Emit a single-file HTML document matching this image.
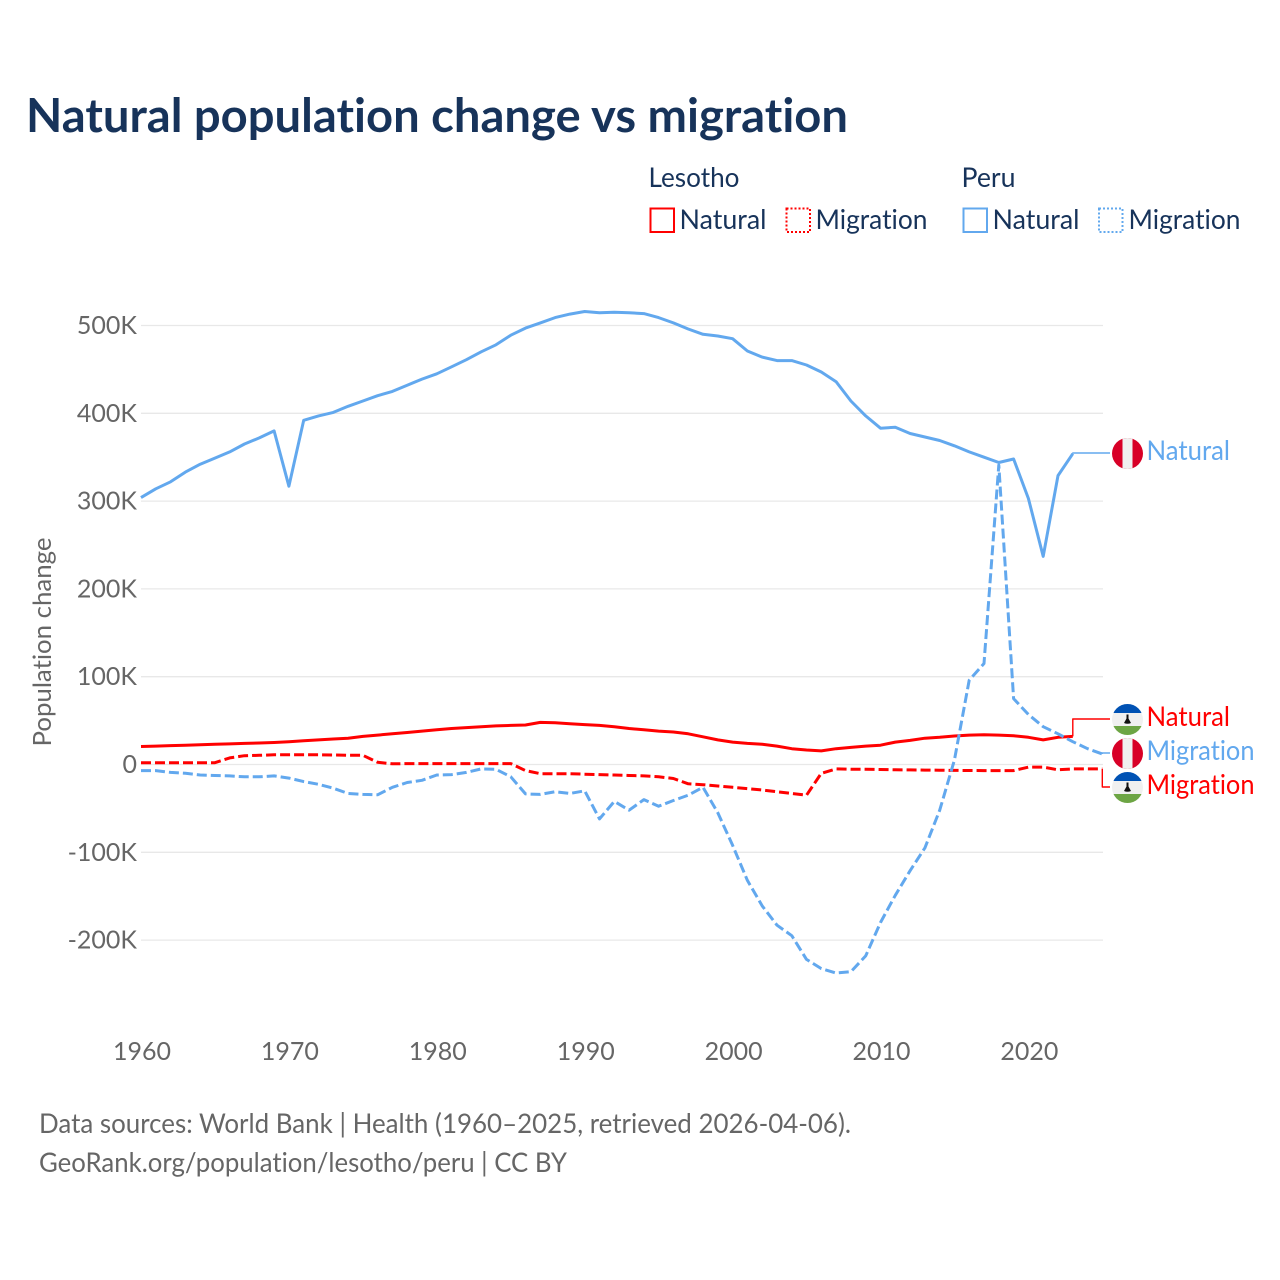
<!DOCTYPE html>
<html lang="en">
<head>
<meta charset="utf-8">
<title>Natural population change vs migration</title>
<style>
html,body{margin:0;padding:0;background:#fff}
svg{display:block}
text{font-family:"Lato","Carlito","Liberation Sans",sans-serif;font-variant-ligatures:none;font-feature-settings:"liga" 0,"clig" 0}
</style>
</head>
<body>
<svg id="chart" xmlns="http://www.w3.org/2000/svg" width="1280" height="1280" viewBox="0 0 1280 1280">
  <rect width="1280" height="1280" fill="#fff"/>
  <text x="26" y="132" font-size="47" font-weight="700" fill="#17335a" textLength="822" lengthAdjust="spacingAndGlyphs">Natural population change vs migration</text>

  <g font-size="27" fill="#17335a">
    <text x="648.5" y="187" textLength="91" lengthAdjust="spacingAndGlyphs">Lesotho</text>
    <text x="961.5" y="187" textLength="54" lengthAdjust="spacingAndGlyphs">Peru</text>
    <rect x="650.5" y="208.5" width="23.5" height="23.5" fill="none" stroke="#ff0000" stroke-width="2"/>
    <text x="679.5" y="229" textLength="87" lengthAdjust="spacingAndGlyphs">Natural</text>
    <rect x="786.5" y="208.5" width="23.5" height="23.5" fill="none" stroke="#ff0000" stroke-width="2" stroke-dasharray="2 2"/>
    <text x="815.5" y="229" textLength="112" lengthAdjust="spacingAndGlyphs">Migration</text>
    <rect x="963.5" y="208.5" width="23.5" height="23.5" fill="none" stroke="#62a8ee" stroke-width="2"/>
    <text x="992.5" y="229" textLength="87" lengthAdjust="spacingAndGlyphs">Natural</text>
    <rect x="1099" y="208.5" width="23.5" height="23.5" fill="none" stroke="#62a8ee" stroke-width="2" stroke-dasharray="2 2"/>
    <text x="1128.5" y="229" textLength="112" lengthAdjust="spacingAndGlyphs">Migration</text>
  </g>

  <g id="grid"></g>
  <g id="yticks" font-size="25" fill="#666" text-anchor="end"></g>
  <g id="xticks" font-size="25" fill="#666" text-anchor="middle"></g>
  <text transform="translate(51 642) rotate(-90)" font-size="25" fill="#666" text-anchor="middle" textLength="209" lengthAdjust="spacingAndGlyphs">Population change</text>
  <g id="series" fill="none" stroke-linejoin="round"></g>

  <defs>
    <clipPath id="flag-clip"><circle cx="0" cy="0" r="15.5"/></clipPath>
  </defs>
  <g transform="translate(1127.5 453.5)" clip-path="url(#flag-clip)">
    <rect x="-16" y="-16" width="32" height="32" fill="#d80027"/><rect x="-5" y="-16" width="10" height="32" fill="#f0f0f0"/>
  </g>
  <g transform="translate(1127.5 719.5)" clip-path="url(#flag-clip)">
    <rect x="-16" y="-16" width="32" height="32" fill="#f0f0f0"/><rect x="-16" y="-16" width="32" height="9.5" fill="#0052b4"/><rect x="-16" y="6.5" width="32" height="9.5" fill="#6da544"/>
    <path d="M-1-5 H1 V-1 L3.5 3.5 Q0 5 -3.5 3.5 L-1-1Z" fill="#111"/>
  </g>
  <g transform="translate(1127.5 753.5)" clip-path="url(#flag-clip)">
    <rect x="-16" y="-16" width="32" height="32" fill="#d80027"/><rect x="-5" y="-16" width="10" height="32" fill="#f0f0f0"/>
  </g>
  <g transform="translate(1127.5 787.5)" clip-path="url(#flag-clip)">
    <rect x="-16" y="-16" width="32" height="32" fill="#f0f0f0"/><rect x="-16" y="-16" width="32" height="9.5" fill="#0052b4"/><rect x="-16" y="6.5" width="32" height="9.5" fill="#6da544"/>
    <path d="M-1-5 H1 V-1 L3.5 3.5 Q0 5 -3.5 3.5 L-1-1Z" fill="#111"/>
  </g>

  <g font-size="27">
    <text x="1146.5" y="460" fill="#62a8ee" textLength="83.5" lengthAdjust="spacingAndGlyphs">Natural</text>
    <text x="1146.5" y="726" fill="#ff0000" textLength="83.5" lengthAdjust="spacingAndGlyphs">Natural</text>
    <text x="1146.5" y="760" fill="#62a8ee" textLength="108" lengthAdjust="spacingAndGlyphs">Migration</text>
    <text x="1146.5" y="794" fill="#ff0000" textLength="108" lengthAdjust="spacingAndGlyphs">Migration</text>
  </g>

  <g font-size="27" fill="#666">
    <text x="39" y="1133" textLength="812" lengthAdjust="spacingAndGlyphs">Data sources: World Bank | Health (1960–2025, retrieved 2026-04-06).</text>
    <text x="39" y="1172" textLength="528" lengthAdjust="spacingAndGlyphs">GeoRank.org/population/lesotho/peru | CC BY</text>
  </g>
</svg>

<script>
const startYear = 1960;
const xTickYears = [1960, 1970, 1980, 1990, 2000, 2010, 2020];
const yTickValues = [500, 400, 300, 200, 100, 0, -100, -200];
const yTickLabels = ['500K', '400K', '300K', '200K', '100K', '0', '-100K', '-200K'];

const lesothoNatural = [
  20.5, 21, 21.5, 22, 22.5, 23, 23.5, 24, 24.5, 25,
  26, 27, 28, 29, 30, 32, 33.5, 35, 36.5, 38,
  39.5, 41, 42, 43, 44, 44.5, 45, 48, 47.5, 46.5,
  45.5, 44.5, 43, 41, 39.5, 38, 37, 35, 31.5, 28,
  25.5, 24, 23, 21, 18, 16.5, 15.5, 18, 19.5, 21,
  22, 25.5, 27.5, 30, 31, 32.5, 33.5, 33.8, 33.5, 32.7,
  31, 28, 31, 32
];
const lesothoMigration = [
  2, 2, 2, 2, 2, 2, 7.5, 10, 10.5, 11,
  11, 11, 11, 10.8, 10.5, 10.5, 2.5, 0.8, 1, 1,
  1, 1, 1, 1, 1, 1, -7, -10.5, -10.5, -10.5,
  -11, -11.5, -12, -12.5, -13, -14, -16, -22, -23, -24.5,
  -26, -27.5, -29, -31, -33, -35, -10, -5, -5.3, -5.5,
  -5.7, -6, -6.2, -6.4, -6.5, -6.7, -6.8, -7, -7, -7,
  -3, -3, -6, -5, -5, -5
];
const peruNatural = [
  304, 314, 322, 333, 342, 349, 356, 365, 372, 380,
  317, 392, 397, 401, 408, 414, 420, 425, 432, 439,
  445, 453, 461, 470, 478, 489, 497, 503, 509, 513,
  516, 514.5, 515, 514.5, 513.5, 509, 503, 496, 490, 488,
  485, 471, 464, 460, 460, 455, 447, 436, 414, 397,
  383, 384, 377, 373, 369, 363, 356, 350, 344, 348,
  303, 237, 329, 354
];
const peruMigration = [
  -7, -7, -9, -10, -12, -12.5, -13, -14, -14, -13,
  -15.5, -19.5, -22.5, -27, -33, -34, -34.5, -26, -20.5, -18,
  -12, -11.5, -9, -5, -5.5, -14, -33.5, -34, -31, -33,
  -30, -62, -42, -52, -40, -47.5, -41, -35, -26, -55,
  -92, -132, -161, -183, -195, -222, -232.5, -237.5, -236, -218,
  -180, -149, -121, -95, -52, 5, 96, 115, 341, 75,
  57, 43, 35, 26, 18, 12
];

const SVGNS = 'http://www.w3.org/2000/svg';
function xScale(year) { return 141 + (year - 1960) * 14.79; }
function yScale(value) { return 764.5 - value * 0.878; }
function mk(tag, parent, attrs) {
  const el = document.createElementNS(SVGNS, tag);
  for (const k in attrs) el.setAttribute(k, attrs[k]);
  parent.appendChild(el);
  return el;
}

const gridGroup = document.getElementById('grid');
const yTickGroup = document.getElementById('yticks');
const xTickGroup = document.getElementById('xticks');
const seriesGroup = document.getElementById('series');

yTickValues.forEach(function (v, i) {
  const line = mk('line', gridGroup, { x1: 141, x2: 1103, y1: yScale(v), y2: yScale(v), stroke: '#e8e8e8', 'stroke-width': 1.3 });
  
  
  const label = mk('text', yTickGroup, { x: 137, y: yScale(v) + 8.5 });
  
  
  label.textContent = yTickLabels[i];
});

xTickYears.forEach(function (yr) {
  const label = mk('text', xTickGroup, { x: xScale(yr) + 1, y: 1060 });
  
  
  label.textContent = String(yr);
});

function drawSeries(values, color, dashed) {
  const pts = values.map(function (v, i) {
    return xScale(startYear + i).toFixed(1) + ',' + yScale(v).toFixed(1);
  }).join(' ');
  const attrs = { points: pts, stroke: color, 'stroke-width': 3 };
  if (dashed) attrs['stroke-dasharray'] = '10 4';
  return mk('polyline', seriesGroup, attrs);
}
function drawLeader(values, color, labelY) {
  const lastX = xScale(startYear + values.length - 1);
  const lastY = yScale(values[values.length - 1]);
  const pts = [[lastX, lastY], [lastX, labelY], [1110, labelY]];
  return mk('polyline', seriesGroup, {
    points: pts.map(function (p) { return p[0].toFixed(1) + ',' + p[1].toFixed(1); }).join(' '),
    stroke: color, 'stroke-width': 1.4
  });
}

const RED = '#ff0000';
const BLUE = '#62a8ee';

const lesothoNaturalLine = drawSeries(lesothoNatural, RED, false);


const lesothoMigrationLine = drawSeries(lesothoMigration, RED, true);


const peruNaturalLine = drawSeries(peruNatural, BLUE, false);


const peruMigrationLine = drawSeries(peruMigration, BLUE, true);



const leaderA = drawLeader(lesothoNatural, RED, 719);


const leaderB = drawLeader(lesothoMigration, RED, 787);


const leaderC = drawLeader(peruNatural, BLUE, 453);


const leaderD = drawLeader(peruMigration, BLUE, 753);


</script>
</body>
</html>
